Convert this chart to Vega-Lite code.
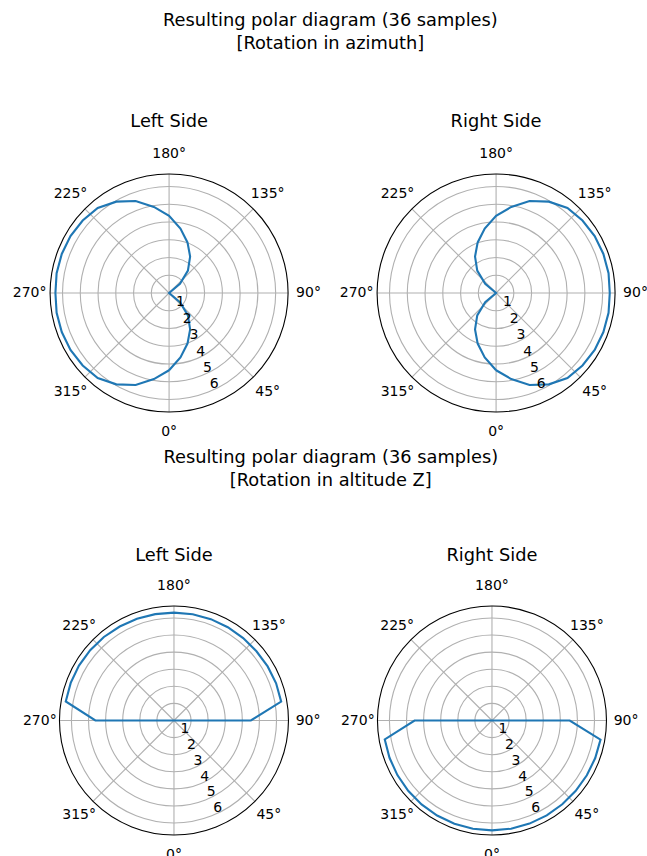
{
  "$schema": "https://vega.github.io/schema/vega-lite/v6.json",
  "padding": {"left": 12, "top": 11, "right": 0, "bottom": 0},
  "background": "white",
  "config": {
    "view": {"stroke": null},
    "font": "DejaVu Sans",
    "title": {"font": "DejaVu Sans", "fontSize": 17.8, "fontWeight": "normal", "color": "#000000"}
  },
  "datasets": {
    "rings": [{"r": 1}, {"r": 2}, {"r": 3}, {"r": 4}, {"r": 5}, {"r": 6}],
    "angles": [
      {"deg": 0, "label": "0°"}, {"deg": 45, "label": "45°"}, {"deg": 90, "label": "90°"}, {"deg": 135, "label": "135°"},
      {"deg": 180, "label": "180°"}, {"deg": 225, "label": "225°"}, {"deg": 270, "label": "270°"}, {"deg": 315, "label": "315°"}
    ],
    "curves": [
      {"plot": "azL", "deg": 0, "r": 4.35}, {"plot": "azL", "deg": 10, "r": 3.68}, {"plot": "azL", "deg": 20, "r": 3.03}, {"plot": "azL", "deg": 30, "r": 2.37},
      {"plot": "azL", "deg": 40, "r": 1.65}, {"plot": "azL", "deg": 50, "r": 0.8}, {"plot": "azL", "deg": 60, "r": 0}, {"plot": "azL", "deg": 70, "r": 0},
      {"plot": "azL", "deg": 80, "r": 0}, {"plot": "azL", "deg": 90, "r": 0}, {"plot": "azL", "deg": 100, "r": 0}, {"plot": "azL", "deg": 110, "r": 0},
      {"plot": "azL", "deg": 120, "r": 0}, {"plot": "azL", "deg": 130, "r": 0.8}, {"plot": "azL", "deg": 140, "r": 1.65}, {"plot": "azL", "deg": 150, "r": 2.37},
      {"plot": "azL", "deg": 160, "r": 3.03}, {"plot": "azL", "deg": 170, "r": 3.68}, {"plot": "azL", "deg": 180, "r": 4.35}, {"plot": "azL", "deg": 190, "r": 4.92},
      {"plot": "azL", "deg": 200, "r": 5.51}, {"plot": "azL", "deg": 210, "r": 5.94}, {"plot": "azL", "deg": 220, "r": 6.25}, {"plot": "azL", "deg": 230, "r": 6.35},
      {"plot": "azL", "deg": 240, "r": 6.41}, {"plot": "azL", "deg": 250, "r": 6.43}, {"plot": "azL", "deg": 260, "r": 6.43}, {"plot": "azL", "deg": 270, "r": 6.4},
      {"plot": "azL", "deg": 280, "r": 6.43}, {"plot": "azL", "deg": 290, "r": 6.43}, {"plot": "azL", "deg": 300, "r": 6.41}, {"plot": "azL", "deg": 310, "r": 6.35},
      {"plot": "azL", "deg": 320, "r": 6.25}, {"plot": "azL", "deg": 330, "r": 5.94}, {"plot": "azL", "deg": 340, "r": 5.51}, {"plot": "azL", "deg": 350, "r": 4.92},
      {"plot": "azL", "deg": 360, "r": 4.35},

      {"plot": "azR", "deg": 0, "r": 4.35}, {"plot": "azR", "deg": 10, "r": 4.92}, {"plot": "azR", "deg": 20, "r": 5.51}, {"plot": "azR", "deg": 30, "r": 5.94},
      {"plot": "azR", "deg": 40, "r": 6.25}, {"plot": "azR", "deg": 50, "r": 6.35}, {"plot": "azR", "deg": 60, "r": 6.41}, {"plot": "azR", "deg": 70, "r": 6.43},
      {"plot": "azR", "deg": 80, "r": 6.43}, {"plot": "azR", "deg": 90, "r": 6.4}, {"plot": "azR", "deg": 100, "r": 6.43}, {"plot": "azR", "deg": 110, "r": 6.43},
      {"plot": "azR", "deg": 120, "r": 6.41}, {"plot": "azR", "deg": 130, "r": 6.35}, {"plot": "azR", "deg": 140, "r": 6.25}, {"plot": "azR", "deg": 150, "r": 5.94},
      {"plot": "azR", "deg": 160, "r": 5.51}, {"plot": "azR", "deg": 170, "r": 4.92}, {"plot": "azR", "deg": 180, "r": 4.35}, {"plot": "azR", "deg": 190, "r": 3.68},
      {"plot": "azR", "deg": 200, "r": 3.03}, {"plot": "azR", "deg": 210, "r": 2.37}, {"plot": "azR", "deg": 220, "r": 1.65}, {"plot": "azR", "deg": 230, "r": 0.8},
      {"plot": "azR", "deg": 240, "r": 0}, {"plot": "azR", "deg": 250, "r": 0}, {"plot": "azR", "deg": 260, "r": 0}, {"plot": "azR", "deg": 270, "r": 0},
      {"plot": "azR", "deg": 280, "r": 0}, {"plot": "azR", "deg": 290, "r": 0}, {"plot": "azR", "deg": 300, "r": 0}, {"plot": "azR", "deg": 310, "r": 0.8},
      {"plot": "azR", "deg": 320, "r": 1.65}, {"plot": "azR", "deg": 330, "r": 2.37}, {"plot": "azR", "deg": 340, "r": 3.03}, {"plot": "azR", "deg": 350, "r": 3.68},
      {"plot": "azR", "deg": 360, "r": 4.35},

      {"plot": "altL", "deg": 0, "r": 0}, {"plot": "altL", "deg": 10, "r": 0}, {"plot": "altL", "deg": 20, "r": 0}, {"plot": "altL", "deg": 30, "r": 0},
      {"plot": "altL", "deg": 40, "r": 0}, {"plot": "altL", "deg": 50, "r": 0}, {"plot": "altL", "deg": 60, "r": 0}, {"plot": "altL", "deg": 70, "r": 0},
      {"plot": "altL", "deg": 80, "r": 0}, {"plot": "altL", "deg": 90, "r": 4.5}, {"plot": "altL", "deg": 100, "r": 6.37}, {"plot": "altL", "deg": 110, "r": 6.36},
      {"plot": "altL", "deg": 120, "r": 6.33}, {"plot": "altL", "deg": 130, "r": 6.3}, {"plot": "altL", "deg": 140, "r": 6.3}, {"plot": "altL", "deg": 150, "r": 6.3},
      {"plot": "altL", "deg": 160, "r": 6.31}, {"plot": "altL", "deg": 170, "r": 6.31}, {"plot": "altL", "deg": 180, "r": 6.31}, {"plot": "altL", "deg": 190, "r": 6.32},
      {"plot": "altL", "deg": 200, "r": 6.33}, {"plot": "altL", "deg": 210, "r": 6.35}, {"plot": "altL", "deg": 220, "r": 6.38}, {"plot": "altL", "deg": 230, "r": 6.4},
      {"plot": "altL", "deg": 240, "r": 6.42}, {"plot": "altL", "deg": 250, "r": 6.43}, {"plot": "altL", "deg": 260, "r": 6.43}, {"plot": "altL", "deg": 270, "r": 4.6},
      {"plot": "altL", "deg": 280, "r": 0}, {"plot": "altL", "deg": 290, "r": 0}, {"plot": "altL", "deg": 300, "r": 0}, {"plot": "altL", "deg": 310, "r": 0},
      {"plot": "altL", "deg": 320, "r": 0}, {"plot": "altL", "deg": 330, "r": 0}, {"plot": "altL", "deg": 340, "r": 0}, {"plot": "altL", "deg": 350, "r": 0},
      {"plot": "altL", "deg": 360, "r": 0},

      {"plot": "altR", "deg": 0, "r": 6.43}, {"plot": "altR", "deg": 10, "r": 6.43}, {"plot": "altR", "deg": 20, "r": 6.42}, {"plot": "altR", "deg": 30, "r": 6.41},
      {"plot": "altR", "deg": 40, "r": 6.4}, {"plot": "altR", "deg": 50, "r": 6.4}, {"plot": "altR", "deg": 60, "r": 6.41}, {"plot": "altR", "deg": 70, "r": 6.43},
      {"plot": "altR", "deg": 80, "r": 6.45}, {"plot": "altR", "deg": 90, "r": 4.55}, {"plot": "altR", "deg": 100, "r": 0}, {"plot": "altR", "deg": 110, "r": 0},
      {"plot": "altR", "deg": 120, "r": 0}, {"plot": "altR", "deg": 130, "r": 0}, {"plot": "altR", "deg": 140, "r": 0}, {"plot": "altR", "deg": 150, "r": 0},
      {"plot": "altR", "deg": 160, "r": 0}, {"plot": "altR", "deg": 170, "r": 0}, {"plot": "altR", "deg": 180, "r": 0}, {"plot": "altR", "deg": 190, "r": 0},
      {"plot": "altR", "deg": 200, "r": 0}, {"plot": "altR", "deg": 210, "r": 0}, {"plot": "altR", "deg": 220, "r": 0}, {"plot": "altR", "deg": 230, "r": 0},
      {"plot": "altR", "deg": 240, "r": 0}, {"plot": "altR", "deg": 250, "r": 0}, {"plot": "altR", "deg": 260, "r": 0}, {"plot": "altR", "deg": 270, "r": 4.53},
      {"plot": "altR", "deg": 280, "r": 6.37}, {"plot": "altR", "deg": 290, "r": 6.38}, {"plot": "altR", "deg": 300, "r": 6.39}, {"plot": "altR", "deg": 310, "r": 6.4},
      {"plot": "altR", "deg": 320, "r": 6.41}, {"plot": "altR", "deg": 330, "r": 6.42}, {"plot": "altR", "deg": 340, "r": 6.43}, {"plot": "altR", "deg": 350, "r": 6.43},
      {"plot": "altR", "deg": 360, "r": 6.43}
    ]
  },
  "spacing": 8,
  "center": true,
  "vconcat": [
    {
      "title": {"text": ["Resulting polar diagram (36 samples)", "[Rotation in azimuth]"], "anchor": "middle", "lineHeight": 23, "offset": 60},
      "spacing": 18,
      "hconcat": [
        {
          "width": 238, "height": 238,
          "title": {"text": "Left Side", "offset": 16},
          "layer": [
            {"data": {"name": "rings"}, "transform": [{"calculate": "0", "as": "t0"}, {"calculate": "360", "as": "t1"}],
             "mark": {"type": "arc", "fill": null, "stroke": "#b0b0b0", "strokeWidth": 1.1},
             "encoding": {"theta": {"field": "t0", "type": "quantitative", "stack": null, "scale": {"domain": [0, 360], "range": [0, 6.2832]}}, "theta2": {"field": "t1"},
                          "radius": {"field": "r", "type": "quantitative", "scale": {"type": "linear", "domain": [0, 6.7], "range": [0, 119], "zero": true}}}},
            {"data": {"name": "angles"},
             "transform": [{"calculate": "0", "as": "x0"}, {"calculate": "6.7*sin(datum.deg*PI/180)", "as": "xe"}, {"calculate": "-6.7*cos(datum.deg*PI/180)", "as": "ye"}],
             "mark": {"type": "rule", "color": "#b0b0b0", "strokeWidth": 1.1},
             "encoding": {"x": {"field": "x0", "type": "quantitative", "scale": {"domain": [-6.7, 6.7], "nice": false, "zero": false}, "axis": null},
                          "y": {"field": "x0", "type": "quantitative", "scale": {"domain": [-6.7, 6.7], "nice": false, "zero": false}, "axis": null},
                          "x2": {"field": "xe"}, "y2": {"field": "ye"}}},
            {"data": {"values": [{"r": 6.7}]}, "transform": [{"calculate": "0", "as": "t0"}, {"calculate": "360", "as": "t1"}],
             "mark": {"type": "arc", "fill": null, "stroke": "#000000", "strokeWidth": 1.1},
             "encoding": {"theta": {"field": "t0", "type": "quantitative", "stack": null, "scale": {"domain": [0, 360], "range": [0, 6.2832]}}, "theta2": {"field": "t1"},
                          "radius": {"field": "r", "type": "quantitative", "scale": {"type": "linear", "domain": [0, 6.7], "range": [0, 119], "zero": true}}}},
            {"data": {"name": "curves"},
             "transform": [{"filter": "datum.plot == 'azL'"}, {"calculate": "datum.r*sin(datum.deg*PI/180)", "as": "x"}, {"calculate": "-datum.r*cos(datum.deg*PI/180)", "as": "y"}],
             "mark": {"type": "line", "color": "#1f77b4", "strokeWidth": 2.1},
             "encoding": {"x": {"field": "x", "type": "quantitative", "scale": {"domain": [-6.7, 6.7], "nice": false, "zero": false}, "axis": null},
                          "y": {"field": "y", "type": "quantitative", "scale": {"domain": [-6.7, 6.7], "nice": false, "zero": false}, "axis": null},
                          "order": {"field": "deg", "type": "quantitative"}}},
            {"data": {"name": "angles"},
             "transform": [{"calculate": "7.85*sin(datum.deg*PI/180)", "as": "xl"}, {"calculate": "-7.85*cos(datum.deg*PI/180)", "as": "yl"}],
             "mark": {"type": "text", "fontSize": 14, "align": "center", "baseline": "middle", "color": "#000000"},
             "encoding": {"x": {"field": "xl", "type": "quantitative"}, "y": {"field": "yl", "type": "quantitative"}, "text": {"field": "label", "type": "nominal"}}},
            {"data": {"name": "rings"},
             "transform": [{"calculate": "datum.r*sin(22.5*PI/180)", "as": "xl"}, {"calculate": "-datum.r*cos(22.5*PI/180)", "as": "yl"}],
             "mark": {"type": "text", "fontSize": 14, "align": "left", "baseline": "bottom", "color": "#000000"},
             "encoding": {"x": {"field": "xl", "type": "quantitative"}, "y": {"field": "yl", "type": "quantitative"}, "text": {"field": "r", "type": "nominal"}}}
          ]
        },
        {
          "width": 238, "height": 238,
          "title": {"text": "Right Side", "offset": 16},
          "layer": [
            {"data": {"name": "rings"}, "transform": [{"calculate": "0", "as": "t0"}, {"calculate": "360", "as": "t1"}],
             "mark": {"type": "arc", "fill": null, "stroke": "#b0b0b0", "strokeWidth": 1.1},
             "encoding": {"theta": {"field": "t0", "type": "quantitative", "stack": null, "scale": {"domain": [0, 360], "range": [0, 6.2832]}}, "theta2": {"field": "t1"},
                          "radius": {"field": "r", "type": "quantitative", "scale": {"type": "linear", "domain": [0, 6.7], "range": [0, 119], "zero": true}}}},
            {"data": {"name": "angles"},
             "transform": [{"calculate": "0", "as": "x0"}, {"calculate": "6.7*sin(datum.deg*PI/180)", "as": "xe"}, {"calculate": "-6.7*cos(datum.deg*PI/180)", "as": "ye"}],
             "mark": {"type": "rule", "color": "#b0b0b0", "strokeWidth": 1.1},
             "encoding": {"x": {"field": "x0", "type": "quantitative", "scale": {"domain": [-6.7, 6.7], "nice": false, "zero": false}, "axis": null},
                          "y": {"field": "x0", "type": "quantitative", "scale": {"domain": [-6.7, 6.7], "nice": false, "zero": false}, "axis": null},
                          "x2": {"field": "xe"}, "y2": {"field": "ye"}}},
            {"data": {"values": [{"r": 6.7}]}, "transform": [{"calculate": "0", "as": "t0"}, {"calculate": "360", "as": "t1"}],
             "mark": {"type": "arc", "fill": null, "stroke": "#000000", "strokeWidth": 1.1},
             "encoding": {"theta": {"field": "t0", "type": "quantitative", "stack": null, "scale": {"domain": [0, 360], "range": [0, 6.2832]}}, "theta2": {"field": "t1"},
                          "radius": {"field": "r", "type": "quantitative", "scale": {"type": "linear", "domain": [0, 6.7], "range": [0, 119], "zero": true}}}},
            {"data": {"name": "curves"},
             "transform": [{"filter": "datum.plot == 'azR'"}, {"calculate": "datum.r*sin(datum.deg*PI/180)", "as": "x"}, {"calculate": "-datum.r*cos(datum.deg*PI/180)", "as": "y"}],
             "mark": {"type": "line", "color": "#1f77b4", "strokeWidth": 2.1},
             "encoding": {"x": {"field": "x", "type": "quantitative", "scale": {"domain": [-6.7, 6.7], "nice": false, "zero": false}, "axis": null},
                          "y": {"field": "y", "type": "quantitative", "scale": {"domain": [-6.7, 6.7], "nice": false, "zero": false}, "axis": null},
                          "order": {"field": "deg", "type": "quantitative"}}},
            {"data": {"name": "angles"},
             "transform": [{"calculate": "7.85*sin(datum.deg*PI/180)", "as": "xl"}, {"calculate": "-7.85*cos(datum.deg*PI/180)", "as": "yl"}],
             "mark": {"type": "text", "fontSize": 14, "align": "center", "baseline": "middle", "color": "#000000"},
             "encoding": {"x": {"field": "xl", "type": "quantitative"}, "y": {"field": "yl", "type": "quantitative"}, "text": {"field": "label", "type": "nominal"}}},
            {"data": {"name": "rings"},
             "transform": [{"calculate": "datum.r*sin(22.5*PI/180)", "as": "xl"}, {"calculate": "-datum.r*cos(22.5*PI/180)", "as": "yl"}],
             "mark": {"type": "text", "fontSize": 14, "align": "left", "baseline": "bottom", "color": "#000000"},
             "encoding": {"x": {"field": "xl", "type": "quantitative"}, "y": {"field": "yl", "type": "quantitative"}, "text": {"field": "r", "type": "nominal"}}}
          ]
        }
      ]
    },
    {
      "title": {"text": ["Resulting polar diagram (36 samples)", "[Rotation in altitude Z]"], "anchor": "middle", "lineHeight": 23, "offset": 57},
      "spacing": 19,
      "hconcat": [
        {
          "width": 229, "height": 229,
          "title": {"text": "Left Side", "offset": 15},
          "layer": [
            {"data": {"name": "rings"}, "transform": [{"calculate": "0", "as": "t0"}, {"calculate": "360", "as": "t1"}],
             "mark": {"type": "arc", "fill": null, "stroke": "#b0b0b0", "strokeWidth": 1.1},
             "encoding": {"theta": {"field": "t0", "type": "quantitative", "stack": null, "scale": {"domain": [0, 360], "range": [0, 6.2832]}}, "theta2": {"field": "t1"},
                          "radius": {"field": "r", "type": "quantitative", "scale": {"type": "linear", "domain": [0, 6.7], "range": [0, 114.5], "zero": true}}}},
            {"data": {"name": "angles"},
             "transform": [{"calculate": "0", "as": "x0"}, {"calculate": "6.7*sin(datum.deg*PI/180)", "as": "xe"}, {"calculate": "-6.7*cos(datum.deg*PI/180)", "as": "ye"}],
             "mark": {"type": "rule", "color": "#b0b0b0", "strokeWidth": 1.1},
             "encoding": {"x": {"field": "x0", "type": "quantitative", "scale": {"domain": [-6.7, 6.7], "nice": false, "zero": false}, "axis": null},
                          "y": {"field": "x0", "type": "quantitative", "scale": {"domain": [-6.7, 6.7], "nice": false, "zero": false}, "axis": null},
                          "x2": {"field": "xe"}, "y2": {"field": "ye"}}},
            {"data": {"values": [{"r": 6.7}]}, "transform": [{"calculate": "0", "as": "t0"}, {"calculate": "360", "as": "t1"}],
             "mark": {"type": "arc", "fill": null, "stroke": "#000000", "strokeWidth": 1.1},
             "encoding": {"theta": {"field": "t0", "type": "quantitative", "stack": null, "scale": {"domain": [0, 360], "range": [0, 6.2832]}}, "theta2": {"field": "t1"},
                          "radius": {"field": "r", "type": "quantitative", "scale": {"type": "linear", "domain": [0, 6.7], "range": [0, 114.5], "zero": true}}}},
            {"data": {"name": "curves"},
             "transform": [{"filter": "datum.plot == 'altL'"}, {"calculate": "datum.r*sin(datum.deg*PI/180)", "as": "x"}, {"calculate": "-datum.r*cos(datum.deg*PI/180)", "as": "y"}],
             "mark": {"type": "line", "color": "#1f77b4", "strokeWidth": 2.1},
             "encoding": {"x": {"field": "x", "type": "quantitative", "scale": {"domain": [-6.7, 6.7], "nice": false, "zero": false}, "axis": null},
                          "y": {"field": "y", "type": "quantitative", "scale": {"domain": [-6.7, 6.7], "nice": false, "zero": false}, "axis": null},
                          "order": {"field": "deg", "type": "quantitative"}}},
            {"data": {"name": "angles"},
             "transform": [{"calculate": "7.85*sin(datum.deg*PI/180)", "as": "xl"}, {"calculate": "-7.85*cos(datum.deg*PI/180)", "as": "yl"}],
             "mark": {"type": "text", "fontSize": 14, "align": "center", "baseline": "middle", "color": "#000000"},
             "encoding": {"x": {"field": "xl", "type": "quantitative"}, "y": {"field": "yl", "type": "quantitative"}, "text": {"field": "label", "type": "nominal"}}},
            {"data": {"name": "rings"},
             "transform": [{"calculate": "datum.r*sin(22.5*PI/180)", "as": "xl"}, {"calculate": "-datum.r*cos(22.5*PI/180)", "as": "yl"}],
             "mark": {"type": "text", "fontSize": 14, "align": "left", "baseline": "bottom", "color": "#000000"},
             "encoding": {"x": {"field": "xl", "type": "quantitative"}, "y": {"field": "yl", "type": "quantitative"}, "text": {"field": "r", "type": "nominal"}}}
          ]
        },
        {
          "width": 229, "height": 229,
          "title": {"text": "Right Side", "offset": 15},
          "layer": [
            {"data": {"name": "rings"}, "transform": [{"calculate": "0", "as": "t0"}, {"calculate": "360", "as": "t1"}],
             "mark": {"type": "arc", "fill": null, "stroke": "#b0b0b0", "strokeWidth": 1.1},
             "encoding": {"theta": {"field": "t0", "type": "quantitative", "stack": null, "scale": {"domain": [0, 360], "range": [0, 6.2832]}}, "theta2": {"field": "t1"},
                          "radius": {"field": "r", "type": "quantitative", "scale": {"type": "linear", "domain": [0, 6.7], "range": [0, 114.5], "zero": true}}}},
            {"data": {"name": "angles"},
             "transform": [{"calculate": "0", "as": "x0"}, {"calculate": "6.7*sin(datum.deg*PI/180)", "as": "xe"}, {"calculate": "-6.7*cos(datum.deg*PI/180)", "as": "ye"}],
             "mark": {"type": "rule", "color": "#b0b0b0", "strokeWidth": 1.1},
             "encoding": {"x": {"field": "x0", "type": "quantitative", "scale": {"domain": [-6.7, 6.7], "nice": false, "zero": false}, "axis": null},
                          "y": {"field": "x0", "type": "quantitative", "scale": {"domain": [-6.7, 6.7], "nice": false, "zero": false}, "axis": null},
                          "x2": {"field": "xe"}, "y2": {"field": "ye"}}},
            {"data": {"values": [{"r": 6.7}]}, "transform": [{"calculate": "0", "as": "t0"}, {"calculate": "360", "as": "t1"}],
             "mark": {"type": "arc", "fill": null, "stroke": "#000000", "strokeWidth": 1.1},
             "encoding": {"theta": {"field": "t0", "type": "quantitative", "stack": null, "scale": {"domain": [0, 360], "range": [0, 6.2832]}}, "theta2": {"field": "t1"},
                          "radius": {"field": "r", "type": "quantitative", "scale": {"type": "linear", "domain": [0, 6.7], "range": [0, 114.5], "zero": true}}}},
            {"data": {"name": "curves"},
             "transform": [{"filter": "datum.plot == 'altR'"}, {"calculate": "datum.r*sin(datum.deg*PI/180)", "as": "x"}, {"calculate": "-datum.r*cos(datum.deg*PI/180)", "as": "y"}],
             "mark": {"type": "line", "color": "#1f77b4", "strokeWidth": 2.1},
             "encoding": {"x": {"field": "x", "type": "quantitative", "scale": {"domain": [-6.7, 6.7], "nice": false, "zero": false}, "axis": null},
                          "y": {"field": "y", "type": "quantitative", "scale": {"domain": [-6.7, 6.7], "nice": false, "zero": false}, "axis": null},
                          "order": {"field": "deg", "type": "quantitative"}}},
            {"data": {"name": "angles"},
             "transform": [{"calculate": "7.85*sin(datum.deg*PI/180)", "as": "xl"}, {"calculate": "-7.85*cos(datum.deg*PI/180)", "as": "yl"}],
             "mark": {"type": "text", "fontSize": 14, "align": "center", "baseline": "middle", "color": "#000000"},
             "encoding": {"x": {"field": "xl", "type": "quantitative"}, "y": {"field": "yl", "type": "quantitative"}, "text": {"field": "label", "type": "nominal"}}},
            {"data": {"name": "rings"},
             "transform": [{"calculate": "datum.r*sin(22.5*PI/180)", "as": "xl"}, {"calculate": "-datum.r*cos(22.5*PI/180)", "as": "yl"}],
             "mark": {"type": "text", "fontSize": 14, "align": "left", "baseline": "bottom", "color": "#000000"},
             "encoding": {"x": {"field": "xl", "type": "quantitative"}, "y": {"field": "yl", "type": "quantitative"}, "text": {"field": "r", "type": "nominal"}}}
          ]
        }
      ]
    }
  ]
}
